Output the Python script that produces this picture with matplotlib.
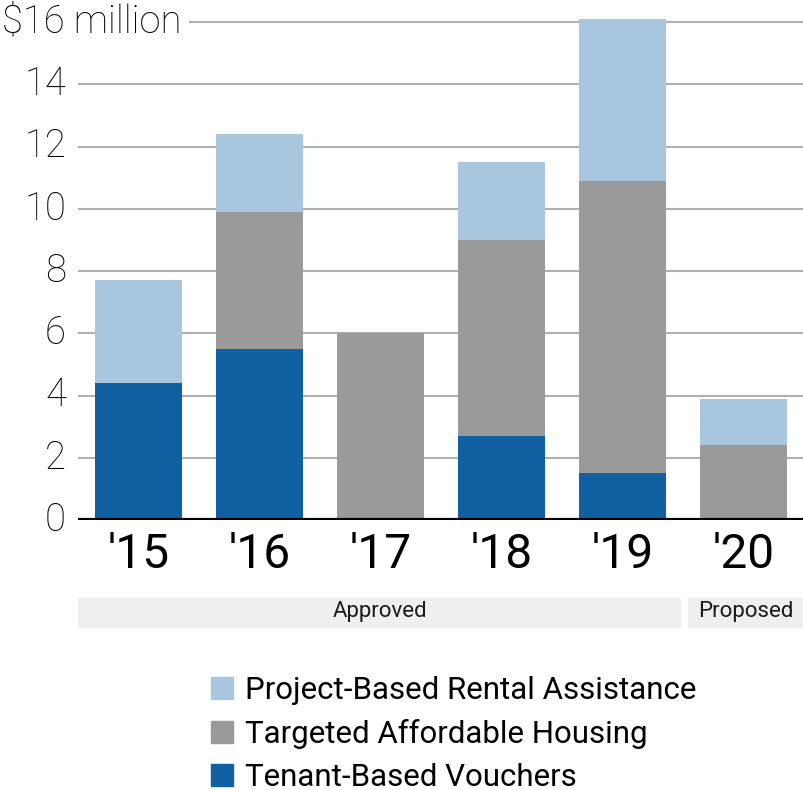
import numpy as np
import matplotlib.pyplot as plt
from matplotlib.patches import Rectangle, Patch
from matplotlib.transforms import blended_transform_factory

years = ["'15", "'16", "'17", "'18", "'19", "'20"]
tenant_vouchers = [4.4, 5.5, 0.0, 2.7, 1.5, 0.0]
targeted_housing = [0.0, 4.4, 6.0, 6.3, 9.4, 2.4]
project_rental = [3.3, 2.5, 0.0, 2.5, 5.2, 1.5]
y_ticks = [0, 2, 4, 6, 8, 10, 12, 14, 16]

c_light = '#a9c6df'
c_gray = '#9a9a9a'
c_dark = '#1060a2'

plt.rcParams['font.family'] = ['Roboto', 'DejaVu Sans']

W, H = 804, 790
fig = plt.figure(figsize=(W / 100, H / 100), dpi=100)
ax = fig.add_axes([78 / W, (H - 520) / H, 1 - 78 / W, (520 - 15.8) / H])

x = np.arange(len(years))
tbv = np.array(tenant_vouchers)
tah = np.array(targeted_housing)
pbra = np.array(project_rental)

ax.bar(x, tbv, width=0.72, color=c_dark, zorder=3)
ax.bar(x, tah, width=0.72, bottom=tbv, color=c_gray, zorder=3)
ax.bar(x, pbra, width=0.72, bottom=tbv + tah, color=c_light, zorder=3)

ax.set_xlim(-0.5, 5.5)
ax.set_ylim(0, 16.2)
ax.set_xticks([])
ax.set_yticks([])
for s in ax.spines.values():
    s.set_visible(False)

# gridlines + labels
for v in y_ticks[1:]:
    start = (190 - 78) / (W - 78) if v == 16 else 0
    ax.axhline(v, xmin=start, xmax=1, color='#b0b0b0', lw=1.5, zorder=1)
ax.axhline(0, color='black', lw=3, zorder=4)

tr_y = blended_transform_factory(fig.transFigure, ax.transData)
for v in y_ticks[:-1]:
    ax.text(66 / W, v, str(v), transform=tr_y, ha='right', va='center',
            fontsize=27.5, fontweight='light', color='black')
ax.text(2 / W, 16, '$16 million', transform=tr_y, ha='left', va='center',
        fontsize=27.5, fontweight='light', color='black')

tr_x = blended_transform_factory(ax.transData, fig.transFigure)
for i, lab in enumerate(years):
    ax.text(i, (H - 555) / H, lab, transform=tr_x, ha='center', va='center',
            fontsize=34.5, color='black')

# approved / proposed bands
fig.patches.append(Rectangle((78 / W, (H - 627) / H), (680 - 78) / W, 29 / H,
                             transform=fig.transFigure, color='#efefef', zorder=0))
fig.patches.append(Rectangle((688 / W, (H - 627) / H), (W - 688) / W, 29 / H,
                             transform=fig.transFigure, color='#efefef', zorder=0))
fig.text(380 / W, (H - 612) / H, 'Approved', ha='center', va='center',
         fontsize=16, color='#1a1a1a')
fig.text(746 / W, (H - 612) / H, 'Proposed', ha='center', va='center',
         fontsize=16, color='#1a1a1a')

handles = [Patch(color=c_light), Patch(color=c_gray), Patch(color=c_dark)]
labels = ['Project-Based Rental Assistance', 'Targeted Affordable Housing',
          'Tenant-Based Vouchers']
fig.legend(handles, labels, loc='center left', bbox_to_anchor=(211 / W, (H - 734) / H),
           frameon=False, fontsize=22.5, handlelength=0.7, handleheight=0.7,
           handletextpad=0.4, labelspacing=0.45, borderpad=0, borderaxespad=0)

fig.savefig('out.png', dpi=100)
